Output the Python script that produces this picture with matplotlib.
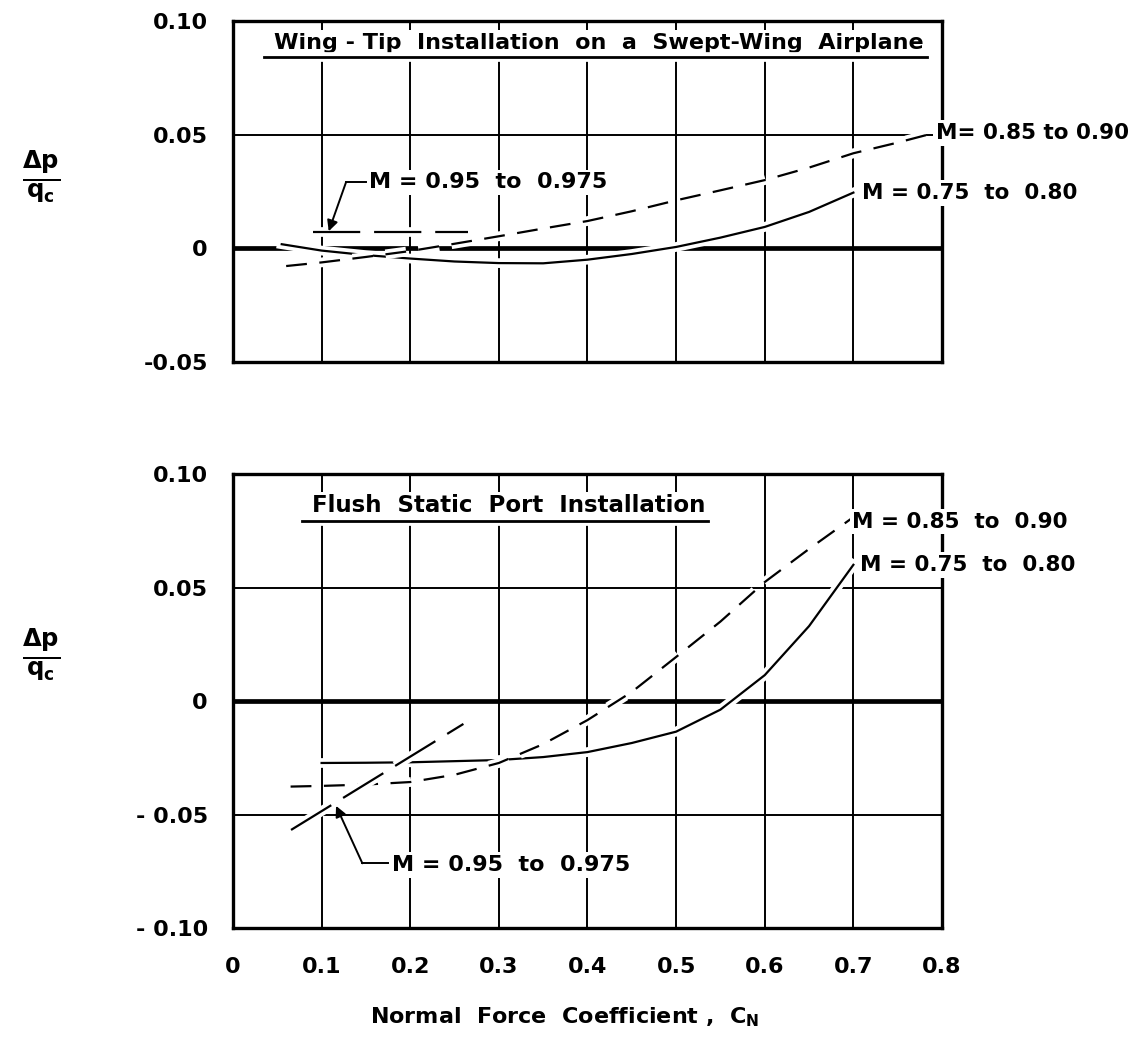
import matplotlib
matplotlib.use('Agg')
import matplotlib.pyplot as plt
import matplotlib.patheffects as pe
import numpy as np

plt.rcParams['font.family'] = 'DejaVu Sans'
plt.rcParams['font.weight'] = 'bold'
plt.rcParams['mathtext.default'] = 'bf'
plt.rcParams['lines.scale_dashes'] = False

# wing-tip installation (top panel)
tip_cn_75 = [0.055, 0.10, 0.15, 0.20, 0.25, 0.30, 0.35, 0.40, 0.45, 0.50, 0.55, 0.60, 0.65, 0.70]
tip_dp_75 = [0.0018, -0.0010, -0.0030, -0.0045, -0.0058, -0.0065, -0.0066, -0.0050, -0.0025,
             0.0006, 0.0047, 0.0094, 0.0160, 0.0245]
tip_cn_85 = [0.06, 0.10, 0.15, 0.20, 0.25, 0.30, 0.35, 0.40, 0.45, 0.50, 0.55, 0.60, 0.65,
             0.70, 0.75, 0.79]
tip_dp_85 = [-0.0078, -0.0062, -0.0038, -0.0012, 0.0020, 0.0053, 0.0087, 0.0120, 0.0163,
             0.0211, 0.0255, 0.0300, 0.0355, 0.0418, 0.0465, 0.0506]
tip_cn_95 = [0.09, 0.265]
tip_dp_95 = [0.007, 0.007]

# flush static port installation (bottom panel)
port_cn_75 = [0.10, 0.15, 0.20, 0.25, 0.30, 0.35, 0.40, 0.45, 0.50, 0.55, 0.60, 0.65, 0.70]
port_dp_75 = [-0.0273, -0.0272, -0.0270, -0.0265, -0.0260, -0.0247, -0.0225, -0.0185,
              -0.0135, -0.0038, 0.0114, 0.0330, 0.0600]
port_cn_85 = [0.065, 0.10, 0.15, 0.20, 0.25, 0.30, 0.35, 0.40, 0.45, 0.50, 0.55, 0.60, 0.65, 0.70]
port_dp_85 = [-0.0377, -0.0374, -0.0368, -0.0357, -0.0325, -0.0273, -0.0190, -0.0084,
              0.0040, 0.0194, 0.0350, 0.0524, 0.0670, 0.0810]
port_cn_95 = [0.0655, 0.26]
port_dp_95 = [-0.0568, -0.0101]

x_ticks = [0, 0.1, 0.2, 0.3, 0.4, 0.5, 0.6, 0.7, 0.8]
x_labels = ['0', '0.1', '0.2', '0.3', '0.4', '0.5', '0.6', '0.7', '0.8']
tip_yticks = [-0.05, 0, 0.05, 0.10]
tip_ylabels = ['-0.05', '0', '0.05', '0.10']
port_yticks = [-0.10, -0.05, 0, 0.05, 0.10]
port_ylabels = ['- 0.10', '- 0.05', '0', '0.05', '0.10']

tip_title = 'Wing - Tip  Installation  on  a  Swept-Wing  Airplane'
port_title = 'Flush  Static  Port  Installation'
lab_75 = 'M = 0.75  to  0.80'
lab_85 = 'M = 0.85  to  0.90'
lab_85_tip = 'M= 0.85 to 0.90'
lab_95 = 'M = 0.95  to  0.975'

halo = [pe.Stroke(linewidth=7, foreground='white'), pe.Normal()]
white_box = dict(fc='white', ec='none', pad=2)
LABEL_SIZE = 15.5


def style_axes(ax, yticks, ylabels):
    ax.set_xlim(0, 0.8)
    ax.set_ylim(yticks[0], yticks[-1])
    ax.set_xticks(x_ticks)
    ax.set_xticklabels(x_labels)
    ax.set_yticks(yticks)
    ax.set_yticklabels(ylabels)
    ax.tick_params(length=0, labelsize=16, pad=18)
    ax.set_axisbelow(True)
    ax.grid(True, color='black', lw=1.4)
    ax.axhline(0, color='black', lw=3.4, zorder=1)
    for s in ax.spines.values():
        s.set_linewidth(2.4)


def draw_curves(ax, cn75, dp75, cn85, dp85, cn95, dp95):
    ax.plot(cn75, dp75, color='black', lw=1.6, zorder=3, path_effects=halo)
    ax.plot(cn85, dp85, color='black', lw=1.6, dashes=(15, 9), zorder=3, path_effects=halo)
    ax.plot(cn95, dp95, color='black', lw=1.6, dashes=(34, 10), zorder=3, path_effects=halo)


def leader(ax, text_xy, corner, tip):
    ax.text(text_xy[0], text_xy[1], lab_95, fontsize=LABEL_SIZE + 0.5, ha='left', va='center',
            bbox=white_box, zorder=4)
    ax.plot([corner[0], text_xy[0] - 0.004], [corner[1], corner[1]], color='black', lw=1.4, zorder=4)
    ax.annotate('', xy=tip, xytext=corner,
                arrowprops=dict(arrowstyle='-|>', color='black', lw=1.4,
                                mutation_scale=16, shrinkA=0, shrinkB=0), zorder=4)


fig = plt.figure(figsize=(11.46, 10.42), dpi=100)
ax1 = fig.add_axes([0.2033, 0.6526, 0.6187, 0.3273])
ax2 = fig.add_axes([0.2033, 0.1094, 0.6187, 0.4357])

style_axes(ax1, tip_yticks, tip_ylabels)
style_axes(ax2, port_yticks, port_ylabels)
ax1.tick_params(labelbottom=False)
ax2.tick_params(axis='x', pad=21)

draw_curves(ax1, tip_cn_75, tip_dp_75, tip_cn_85, tip_dp_85, tip_cn_95, tip_dp_95)
draw_curves(ax2, port_cn_75, port_dp_75, port_cn_85, port_dp_85, port_cn_95, port_dp_95)

# curve labels
ax1.text(0.7935, 0.0506, lab_85_tip, fontsize=LABEL_SIZE, ha='left', va='center',
         bbox=white_box, zorder=4)
ax1.text(0.710, 0.0242, lab_75, fontsize=LABEL_SIZE, ha='left', va='center',
         bbox=white_box, zorder=4)
ax2.text(0.699, 0.0790, lab_85, fontsize=LABEL_SIZE, ha='left', va='center',
         bbox=white_box, zorder=4)
ax2.text(0.708, 0.0600, lab_75, fontsize=LABEL_SIZE, ha='left', va='center',
         bbox=white_box, zorder=4)

leader(ax1, (0.154, 0.029), (0.1275, 0.029), (0.108, 0.0075))
leader(ax2, (0.179, -0.0722), (0.146, -0.0715), (0.1163, -0.0462))

# underlined panel titles
titles = [
    (ax1, ax1.text(0.413, 0.0905, tip_title, fontsize=16, ha='center', va='center',
                   bbox=white_box, zorder=4)),
    (ax2, ax2.text(0.311, 0.0860, port_title, fontsize=16.5, ha='center', va='center',
                   bbox=white_box, zorder=4)),
]
fig.canvas.draw()
renderer = fig.canvas.get_renderer()
for ax, t in titles:
    t.set_bbox(None)
    bb = t.get_window_extent(renderer)
    inv = ax.transData.inverted()
    (x0, y0), (x1, _) = inv.transform([(bb.x0 - 10, bb.y0 - 4), (bb.x1 + 3, bb.y0)])
    ax.plot([x0, x1], [y0, y0], color='black', lw=2.0, zorder=4, path_effects=halo)
    t.set_bbox(white_box)

# axis labels
fig.text(0.036, 0.830, r'$\frac{\Delta p}{q_c}$', fontsize=25, ha='center', va='center')
fig.text(0.036, 0.371, r'$\frac{\Delta p}{q_c}$', fontsize=25, ha='center', va='center')
fig.text(0.493, 0.024, r'Normal  Force  Coefficient ,  $C_N$', fontsize=16,
         ha='center', va='center')

fig.savefig('out.png', dpi=100)
